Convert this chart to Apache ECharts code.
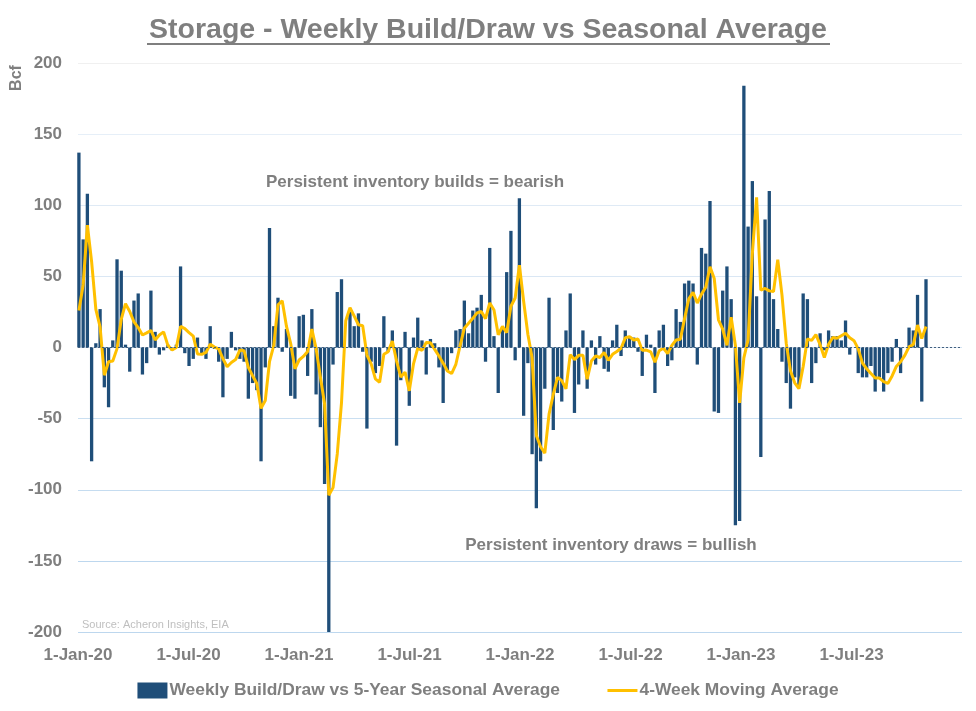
<!DOCTYPE html>
<html><head><meta charset="utf-8">
<script src="https://cdn.jsdelivr.net/npm/echarts@6/dist/echarts.min.js"></script>
<style>html,body{margin:0;padding:0;background:#fff}#c{width:976px;height:711px}</style>
</head><body><div id="c"></div><script>
// ---- data ----
const firstWeekEnding = '2020-01-03';
const tickLabels = ['1-Jan-20','1-Jul-20','1-Jan-21','1-Jul-21','1-Jan-22','1-Jul-22','1-Jan-23','1-Jul-23'];
const seriesNames = ['Weekly Build/Draw vs 5-Year Seasonal Average','4-Week Moving Average'];
const weeklyVsAvg = [
137,76,108,-80,3,27,-28,-42,5,62,
54,2,-17,33,38,-19,-11,40,11,-5,
-2,2,-2,2,57,-4,-13,-8,7,-5,
-8,15,-1,-10,-35,-8,11,-2,-8,-10,
-36,-25,-30,-80,-14,84,15,35,-3,13,
-34,-36,22,23,-20,27,-33,-56,-96,-230,
-12,39,48,0,25,15,24,-3,-57,-10,
-18,-13,22,-3,12,-69,-23,11,-41,7,
21,5,-19,6,3,-14,-39,-16,-4,12,
13,33,10,26,28,37,-10,70,8,-32,
13,53,82,-9,105,-48,-11,-75,-113,-80,
-29,35,-58,-32,-38,12,38,-46,-26,12,
-29,5,-12,8,-15,-17,5,16,-6,12,
8,7,-3,-20,9,2,-32,12,16,-13,
-9,27,18,45,47,45,-12,70,66,103,
-45,-46,40,57,34,-125,-122,184,85,117,
36,-77,90,110,34,13,-10,-25,-43,-21,
-27,38,34,-25,-11,10,-2,12,8,8,
5,19,-5,0,-18,-21,-21,-13,-31,-21,
-31,-18,-10,6,-18,0,14,12,37,-38,
48
];
const movingAvg4w = [
26,44,86,60.3,26.8,14.5,-19.5,-10,-9.5,-0.8,
19.8,30.8,25.3,18,14,8.8,10.3,12,5.3,8.8,
11,1.5,-1.8,0,14.8,13.3,10.5,8,-4.5,-4.8,
-3.5,2.3,0.3,-1,-7.8,-13.5,-10.5,-8.5,-1.8,-2.3,
-14,-19.8,-25.3,-42.8,-37.3,-10,1.3,30,32.8,15,
2.8,-15,-8.8,-6.3,-2.8,13,-0.8,-20.5,-39.5,-103.8,
-98.5,-74.8,-38.8,18.8,28,22,16,15.3,-5.3,-11.5,
-22,-24.5,-4.8,-3,4.5,-9.5,-20.8,-17.3,-30.5,-11.5,
-0.5,-2,3.5,3.3,-1.3,-6,-11,-16.5,-18.3,-11.8,
1.3,13.5,17,20.5,24.3,25.3,20.3,31.3,26.3,9,
14.8,10.5,29,34.8,57.8,32.5,9.3,-7.3,-61.8,-69.8,
-74.3,-46.8,-33,-21,-23.3,-29,-5,-8.5,-5.5,-5.5,
-22.3,-9.5,-6,-7,-3.5,-9,-4.8,-2.8,-0.5,6.8,
7.5,5.3,6,-2,-1.8,-3,-10.3,-2.3,-0.5,-4.3,
1.5,5.3,5.8,20.3,34.3,38.8,31.3,37.5,42.3,56.8,
48.5,19.5,13,1.5,21.3,1.5,-39,-7.3,5.5,66,
105.5,40.3,41.5,39.8,39.3,61.8,36.8,3,-16.3,-24.8,
-29,-13.3,6,5,9,2,-7,2.3,7,6.5,
8.3,10,6.8,4.8,-1,-11,-15,-18.3,-21.5,-21.5,
-24,-25.3,-20,-13.3,-10,-5.5,0.5,2,15.8,6.3,
14.8
];

// ---- build ----
const DAY = 86400000;
const HALF_YEAR = 182.625 * DAY;
const start = Date.parse(firstWeekEnding + 'T00:00:00Z');
const weekDates = weeklyVsAvg.map((_, i) => start + i * 7 * DAY);
const axisMin = Math.round(Date.UTC(2020, 0, 1) / HALF_YEAR) * HALF_YEAR;
const axisMax = axisMin + 8 * HALF_YEAR;

const GREY = '#7f7f7f';
const FONT = 'Liberation Sans, Arial, sans-serif';

const chart = echarts.init(document.getElementById('c'), null, {renderer: 'canvas'});
chart.setOption({
  animation: false,
  backgroundColor: '#ffffff',
  title: {
    text: 'Storage - Weekly Build/Draw vs Seasonal Average',
    left: 'center', top: 16, padding: 0,
    textStyle: {color: GREY, fontSize: 28.5, fontWeight: 'bold', fontFamily: FONT}
  },
  grid: {left: 78, right: 14, top: 63, bottom: 79},
  legend: {
    top: 677, left: 'center', itemWidth: 30, itemHeight: 16, itemGap: 46,
    textStyle: {color: GREY, fontSize: 17.4, fontWeight: 'bold', fontFamily: FONT, padding: [0, 0, 0, -3]},
    data: [
      {name: seriesNames[0], icon: 'rect'},
      {name: seriesNames[1], itemStyle: {opacity: 0}, lineStyle: {color: '#ffc000', width: 3}}
    ]
  },
  xAxis: {
    type: 'value', min: axisMin, max: axisMax, interval: HALF_YEAR,
    axisLine: {show: false}, axisTick: {show: false}, splitLine: {show: false},
    axisLabel: {
      color: GREY, fontSize: 17, fontWeight: 'bold', fontFamily: FONT, margin: 15,
      showMaxLabel: false,
      formatter: v => tickLabels[Math.round((v - axisMin) / HALF_YEAR)] || ''
    }
  },
  yAxis: {
    type: 'value', min: -200, max: 200, interval: 50,
    axisLine: {show: false}, axisTick: {show: false},
    axisLabel: {color: GREY, fontSize: 17, fontWeight: 'bold', fontFamily: FONT, margin: 16},
    splitLine: {lineStyle: {width: 1, color: ['#bdd7ee','#bdd7ee','#c5dcf0','#cadff1','#d6e5f3','#dae7f4','#dfeaf5','#e6eff8','#f0f0f0']}}
  },
  graphic: [
    {type: 'line', shape: {x1: 147, y1: 44, x2: 830, y2: 44}, style: {stroke: GREY, lineWidth: 2}},
    {type: 'text', x: 17, y: 78, rotation: Math.PI / 2,
      style: {text: 'Bcf', fill: GREY, font: 'bold 16px ' + FONT, textAlign: 'center', textVerticalAlign: 'middle'}},
    {type: 'text', x: 415, y: 182, z: 10,
      style: {text: 'Persistent inventory builds = bearish', fill: GREY, font: 'bold 17px ' + FONT, textAlign: 'center', textVerticalAlign: 'middle'}},
    {type: 'text', x: 611, y: 545, z: 10,
      style: {text: 'Persistent inventory draws = bullish', fill: GREY, font: 'bold 17px ' + FONT, textAlign: 'center', textVerticalAlign: 'middle'}},
    {type: 'text', x: 82, y: 625, z: 10,
      style: {text: 'Source: Acheron Insights, EIA', fill: '#bfbfbf', font: '11px ' + FONT, textAlign: 'left', textVerticalAlign: 'middle'}}
  ],
  series: [
    {
      name: seriesNames[0], type: 'bar', clip: true, barWidth: 3.3,
      itemStyle: {color: '#1f4e79'},
      data: weeklyVsAvg.map((v, i) => [weekDates[i], v]),
      markLine: {
        silent: true, symbol: 'none', label: {show: false},
        lineStyle: {color: '#44607e', type: [2, 2], width: 1},
        data: [{yAxis: 0}]
      },
      z: 2
    },
    {
      name: seriesNames[1], type: 'line', showSymbol: false, symbol: 'none',
      lineStyle: {color: '#ffc000', width: 3}, itemStyle: {color: '#ffc000'},
      data: movingAvg4w.map((v, i) => [weekDates[i], v]),
      z: 3
    }
  ]
});
</script></body></html>
